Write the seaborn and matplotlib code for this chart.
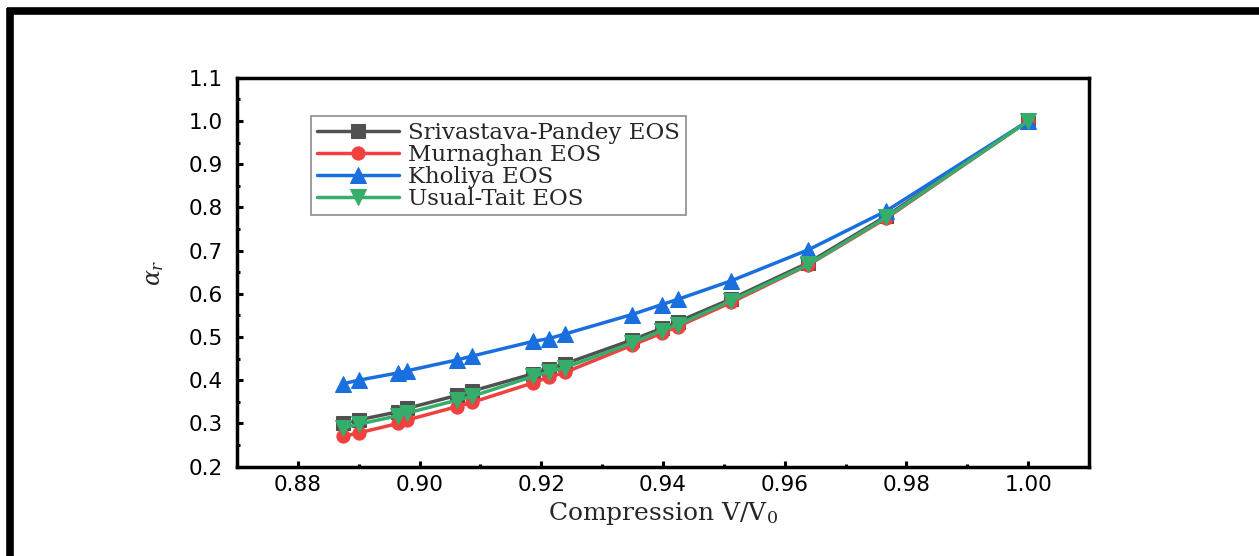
import numpy as np
import pandas as pd
import matplotlib
matplotlib.use("Agg")
import matplotlib.pyplot as plt
from matplotlib.ticker import MultipleLocator
from matplotlib.lines import Line2D
import seaborn as sns

# compression V/V0 (shared by every EOS)
compression = [0.8875, 0.8900, 0.8965, 0.8980, 0.9062, 0.9087, 0.9187, 0.9212, 0.9239,
               0.9349, 0.9398, 0.9424, 0.9512, 0.9639, 0.9767, 1.0000]

srivastava_pandey = [0.300, 0.308, 0.327, 0.335, 0.365, 0.375, 0.415, 0.427, 0.438,
                     0.493, 0.520, 0.535, 0.588, 0.672, 0.780, 1.000]
murnaghan = [0.270, 0.278, 0.300, 0.308, 0.339, 0.349, 0.394, 0.407, 0.418,
             0.481, 0.509, 0.524, 0.580, 0.667, 0.775, 1.000]
kholiya = [0.392, 0.400, 0.417, 0.422, 0.447, 0.456, 0.490, 0.496, 0.507,
           0.552, 0.575, 0.587, 0.630, 0.702, 0.792, 1.000]
usual_tait = [0.290, 0.298, 0.318, 0.324, 0.354, 0.363, 0.409, 0.419, 0.429,
              0.486, 0.515, 0.528, 0.584, 0.668, 0.777, 1.000]

models = ["Srivastava-Pandey EOS", "Murnaghan EOS", "Kholiya EOS", "Usual-Tait EOS"]
colors = ["#515151", "#F14040", "#1A6FDF", "#37AD6B"]
markers = ["s", "o", "^", "v"]
msizes = [9.5, 9.5, 11, 11]

df = pd.concat([
    pd.DataFrame({"compression": compression, "alpha": vals, "model": name})
    for name, vals in zip(models, [srivastava_pandey, murnaghan, kholiya, usual_tait])
], ignore_index=True)

sns.set_theme(style="ticks")
plt.rcParams["font.family"] = ["DejaVu Sans"]
plt.rcParams["mathtext.fontset"] = "dejavuserif"

fig = plt.figure(figsize=(12.59, 5.56), dpi=100)
ax = fig.add_axes([0.1882, 0.1608, 0.6768, 0.6993])

for name, c, m, ms in zip(models, colors, markers, msizes):
    sns.lineplot(data=df[df["model"] == name], x="compression", y="alpha", ax=ax,
                 color=c, marker=m, markersize=ms, markeredgecolor=c,
                 linewidth=2.5, label=name)

ax.set_xlim(0.870, 1.010)
ax.set_ylim(0.2, 1.1)
ax.xaxis.set_major_locator(MultipleLocator(0.02))
ax.xaxis.set_minor_locator(MultipleLocator(0.01))
ax.yaxis.set_major_locator(MultipleLocator(0.1))
ax.yaxis.set_minor_locator(MultipleLocator(0.05))
ax.xaxis.set_major_formatter(plt.FuncFormatter(lambda v, p: f"{v:.2f}"))
ax.yaxis.set_major_formatter(plt.FuncFormatter(lambda v, p: f"{v:.1f}"))

for side in ax.spines.values():
    side.set_linewidth(2.5)
    side.set_color("black")
ax.tick_params(which="both", direction="in", width=2.2, colors="black",
               top=False, right=False, labelsize=15.5)
ax.tick_params(which="major", length=4.5)
ax.tick_params(which="minor", length=2.5)
ax.tick_params(axis="x", which="major", pad=6)
ax.tick_params(axis="y", which="major", pad=10)

ax.set_xlabel("Compression V/V$_0$", family="DejaVu Serif", fontsize=18)
ax.set_ylabel(r"$\alpha_r$", fontsize=17)
ax.xaxis.set_label_coords(0.5, -0.085)
ax.yaxis.set_label_coords(-0.083, 0.5)

leg = ax.legend(loc="upper left", bbox_to_anchor=(0.0869, 0.9017), borderaxespad=0,
                frameon=True, fancybox=False, edgecolor="#8c8c8c", framealpha=1,
                prop={"family": "DejaVu Serif", "size": 16.5}, handlelength=3.6,
                handletextpad=0.4, labelspacing=0.0, borderpad=0.25)
leg.get_frame().set_linewidth(1.2)

# thick black frame along the top and left edge of the picture
fig.add_artist(Line2D([7 / 1259, 1], [1 - 11 / 556] * 2, transform=fig.transFigure,
                      color="black", lw=5.5, solid_capstyle="butt"))
fig.add_artist(Line2D([10.5 / 1259] * 2, [0, 1 - 7.5 / 556], transform=fig.transFigure,
                      color="black", lw=5.5, solid_capstyle="butt"))

fig.savefig("out.png", dpi=100)
